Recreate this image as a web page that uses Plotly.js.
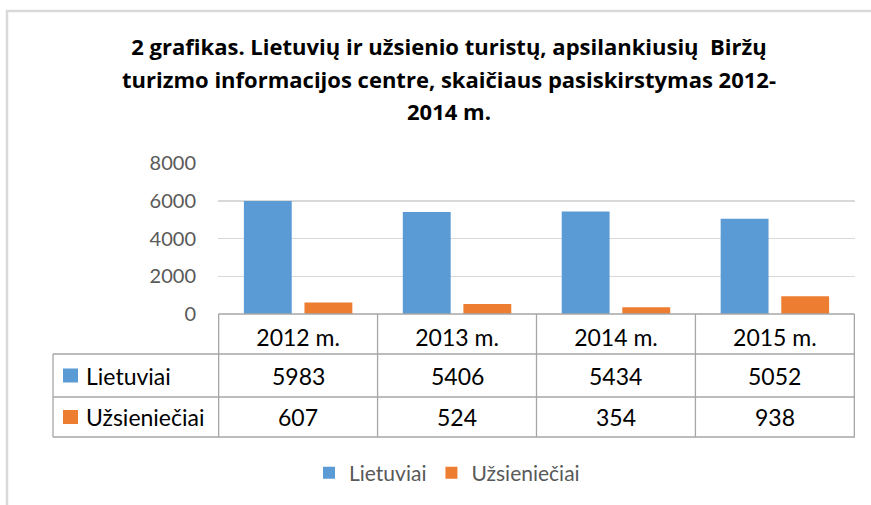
<!DOCTYPE html>
<html>
<head>
<meta charset="utf-8">
<script src="https://cdn.plot.ly/plotly-3.0.1.min.js"></script>
<style>html,body{margin:0;padding:0;background:#fff;}#chart{width:871px;height:505px;}</style>
</head>
<body>
<div id="chart"></div>
<script>
// ---- data ----
const categories = ['2012 m.', '2013 m.', '2014 m.', '2015 m.'];
const seriesNames = ['Lietuviai', 'Užsieniečiai'];
const lietuviai = [5983, 5406, 5434, 5052];
const uzsienieciai = [607, 524, 354, 938];
const yTicks = [0, 2000, 4000, 6000, 8000];
const titleLines = ['2 grafikas. Lietuvių ir užsienio turistų, apsilankiusių  Biržų',
                    'turizmo informacijos centre, skaičiaus pasiskirstymas 2012-',
                    '2014 m.'];

// ---- styling / geometry ----
const colors = ['#5b9bd5', '#ed7d31'];
const FONT = 'Lato, "Open Sans", sans-serif';
const TFONT = '"Open Sans", Lato, sans-serif';
const W = 871, Hh = 505;
const M = {l: 218, r: 16, t: 163, b: 191};
const PW = W - M.l - M.r, PH = Hh - M.t - M.b;
const px = x => (x - M.l) / PW;
const py = y => (M.t + PH - y) / PH;
const gridCol = '#a6a6a6';

const values = [lietuviai, uzsienieciai];
const traces = seriesNames.map((n, i) => ({
  type: 'bar', name: n, x: categories, y: values[i],
  marker: {color: colors[i]}, hoverinfo: 'skip'
}));

// table rows (pixel positions)
const rowEdges = [314, 354, 397, 437];
const shapes = [];
const line = {color: gridCol, width: 1.3};
shapes.push({type: 'line', xref: 'x', yref: 'paper', x0: -0.5, x1: categories.length - 0.5, y0: py(rowEdges[0]), y1: py(rowEdges[0]), line});
for (let r = 1; r < rowEdges.length; r++) {
  shapes.push({type: 'line', xref: 'paper', yref: 'paper', x0: px(53), x1: 1, y0: py(rowEdges[r]), y1: py(rowEdges[r]), line});
}
shapes.push({type: 'line', xref: 'paper', yref: 'paper', x0: px(53), x1: px(53), y0: py(rowEdges[1]), y1: py(rowEdges[3]), line});
for (let c = 0; c <= categories.length; c++) {
  shapes.push({type: 'line', xref: 'x', yref: 'paper', x0: c - 0.5, x1: c - 0.5, y0: py(rowEdges[0]), y1: py(rowEdges[3]), line});
}
// outer chart border (top and left)
shapes.push({type: 'line', xref: 'paper', yref: 'paper', x0: px(6), x1: px(871), y0: py(11), y1: py(11), line: {color: '#d9d9d9', width: 2.5}});
shapes.push({type: 'line', xref: 'paper', yref: 'paper', x0: px(7), x1: px(7), y0: py(10), y1: py(505), line: {color: '#d9d9d9', width: 2.5}});

const annotations = [];
seriesNames.forEach((n, i) => {
  const yc = (rowEdges[i + 1] + rowEdges[i + 2]) / 2;
  shapes.push({type: 'rect', xref: 'paper', yref: 'paper', x0: px(63), x1: px(78), y0: py(yc + 7), y1: py(yc - 7), fillcolor: colors[i], line: {width: 0}});
  annotations.push({xref: 'paper', yref: 'paper', x: px(84), y: py(yc), xanchor: 'left', yanchor: 'middle', text: n, showarrow: false, font: {family: FONT, size: 23, color: '#000'}});
  values[i].forEach((v, j) => {
    annotations.push({xref: 'x', yref: 'paper', x: categories[j], y: py(yc), xanchor: 'center', yanchor: 'middle', text: String(v), showarrow: false, font: {family: FONT, size: 23, color: '#000'}});
  });
});

const layout = {
  width: W, height: Hh,
  margin: M,
  paper_bgcolor: '#fff', plot_bgcolor: '#fff',
  title: {
    text: titleLines.map(t => '<span style="font-size:22px">' + t + '</span>').join('<br>'),
    font: {family: TFONT, size: 25, color: '#000', weight: 'bold'},
    x: 449 / W, xanchor: 'center', xref: 'container',
    y: 1 - 55 / Hh, yanchor: 'top', yref: 'container'
  },
  barmode: 'group', bargap: 0.2375, bargroupgap: 0.21,
  xaxis: {
    type: 'category', showgrid: false, zeroline: false, showline: false,
    ticks: 'outside', ticklen: 3, tickcolor: 'rgba(0,0,0,0)',
    tickfont: {family: FONT, size: 23, color: '#000'}, fixedrange: true
  },
  yaxis: {
    range: [0, 8000], tickvals: yTicks, ticktext: yTicks.map(String),
    showgrid: true, gridcolor: '#d9d9d9', gridwidth: 1.5, zeroline: false, showline: false,
    ticks: 'outside', ticklen: 17, tickcolor: 'rgba(0,0,0,0)',
    tickfont: {family: FONT, size: 20, color: '#595959'}, fixedrange: true
  },
  showlegend: true,
  legend: {
    orientation: 'h', xref: 'container', yref: 'container',
    x: 447 / W, xanchor: 'center', y: 1 - 473 / Hh, yanchor: 'middle',
    font: {family: FONT, size: 21, color: '#595959'}, itemclick: false, itemdoubleclick: false
  },
  shapes, annotations
};

Plotly.newPlot('chart', traces, layout, {displayModeBar: false, staticPlot: true});
</script>
</body>
</html>
